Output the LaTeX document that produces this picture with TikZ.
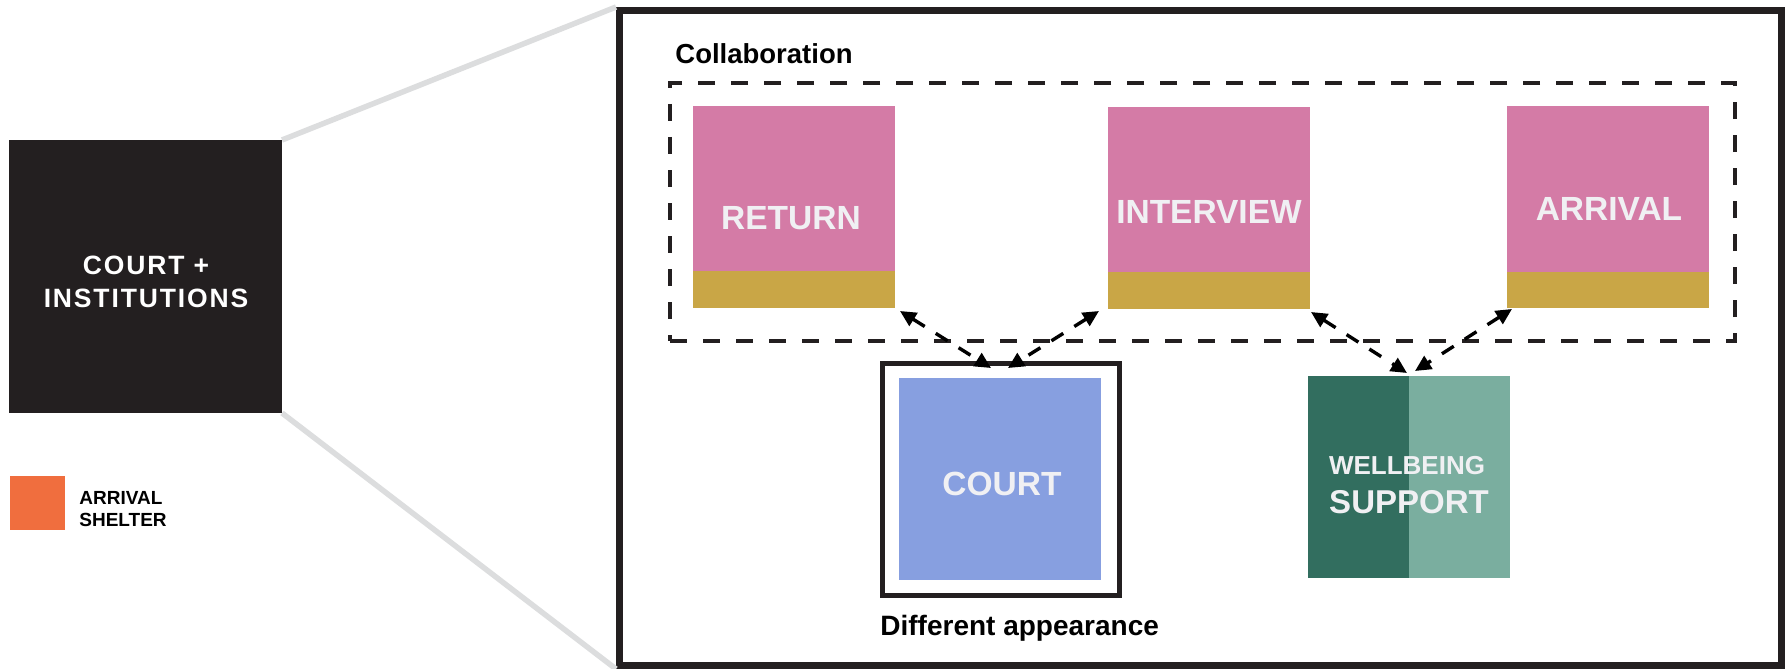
\documentclass[tikz,border=0pt]{standalone}
\usepackage{fontspec}
\setmainfont{Liberation Sans}
\usetikzlibrary{arrows.meta,calc}
\definecolor{pinkc}{HTML}{D47BA6}
\definecolor{goldc}{HTML}{C9A646}
\definecolor{bluec}{HTML}{879FE0}
\definecolor{dgreen}{HTML}{326E5F}
\definecolor{lgreen}{HTML}{7AAE9F}
\definecolor{orangec}{HTML}{F06E3E}
\definecolor{blackc}{HTML}{231F20}
\definecolor{greyc}{HTML}{DCDDDE}
\definecolor{txtc}{HTML}{F0F0F3}
\begin{document}
\begin{tikzpicture}[x=0.5pt,y=-0.5pt,
  sq/.style={rectangle, inner sep=0pt, outer sep=0pt, minimum width=101pt, minimum height=101pt},
  lbl/.style={text=txtc, inner sep=0pt, anchor=base, font=\bfseries\fontsize{16.75}{20}\selectfont},
  dark/.style={text=black, inner sep=0pt, anchor=base west, font=\bfseries\fontsize{13.75}{16}\selectfont},
  greyl/.style={draw=greyc, line width=2.75pt},
  dbl/.style={draw=black, line width=1.7pt, dash pattern=on 7pt off 6.5pt,
    {Triangle[length=8pt,width=7.5pt]}-{Triangle[length=8pt,width=7.5pt]}}]
\useasboundingbox (0,0) rectangle (1785,669);
% left key block
\node[rectangle, fill=blackc, inner sep=0pt, outer sep=0pt, minimum width=136.5pt, minimum height=136.5pt] (blk) at (145.5,276.5) {};
\node[text=white, inner sep=0pt, anchor=base, align=center,
  font=\bfseries\fontsize{13.25}{16.5}\selectfont\addfontfeature{LetterSpace=7}] (blkl) at (146,307) {COURT +\\INSTITUTIONS};
\node[rectangle, fill=orangec, inner sep=0pt, outer sep=0pt, minimum width=27.5pt, minimum height=27pt] (org) at (37.5,503) {};
\node[text=black, inner sep=0pt, anchor=base west, align=left,
  font=\bfseries\fontsize{9.5}{11}\selectfont] (orgl) at (79,526) {ARRIVAL\\SHELTER};
% zoom frame
\node[rectangle, draw=blackc, line width=3.5pt, inner sep=0pt, minimum width=581pt, minimum height=327.5pt] (frm) at (1200.5,338) {};
\draw[greyl] (blk.north east) -- (frm.north west);
\draw[greyl] (blk.south east) -- (frm.south west);
% collaboration group
\node[dark] (coll) at (675,63) {Collaboration};
\node[rectangle, draw=blackc, line width=2.25pt, dash pattern=on 8.5pt off 8pt, inner sep=0pt,
  minimum width=532.5pt, minimum height=129pt] (col) at (1202.5,212) {};
\node[sq, fill=pinkc] (ret) at (794,207) {};
\node[sq, fill=pinkc] (int) at (1209,208) {};
\node[sq, fill=pinkc] (arr) at (1608,207) {};
\fill[goldc] ($(ret.south west)+(0,-37)$) rectangle (ret.south east);
\fill[goldc] ($(int.south west)+(0,-37)$) rectangle (int.south east);
\fill[goldc] ($(arr.south west)+(0,-36)$) rectangle (arr.south east);
\node[lbl] (retl) at (791,229) {RETURN};
\node[lbl] (intl) at (1209,223) {INTERVIEW};
\node[lbl] (arrl) at (1609,220) {ARRIVAL};
% court
\node[rectangle, draw=blackc, line width=2.5pt, inner sep=0pt, minimum width=118.5pt, minimum height=116pt] (cf) at (1001,479.5) {};
\node[sq, fill=bluec] (court) at (1000,479) {};
\node[lbl] (courtl) at (1002,495) {COURT};
\node[dark, font=\bfseries\fontsize{14}{16}\selectfont] (diff) at (880,635) {Different appearance};
% wellbeing
\node[sq, fill=lgreen] (wb) at (1409,477) {};
\fill[dgreen] (wb.north west) rectangle (wb.south);
\node[lbl, font=\bfseries\fontsize{13}{16}\selectfont] (wbl1) at (1407,474) {WELLBEING};
\node[lbl, font=\bfseries\fontsize{16.5}{20}\selectfont] (wbl2) at (1409,513) {SUPPORT};
% arrows
\draw[dbl] ($(ret.south east)+(5,3)$) -- ($(cf.north)+(-10,7)$);
\draw[dbl] ($(int.south west)+(-9,2)$) -- ($(cf.north)+(7,7)$);
\draw[dbl] ($(int.south east)+(1,3)$) -- ($(wb.north)+(-2,-3)$);
\draw[dbl] ($(arr.south west)+(5,1)$) -- ($(wb.north)+(6,-5)$);
\end{tikzpicture}
\end{document}
